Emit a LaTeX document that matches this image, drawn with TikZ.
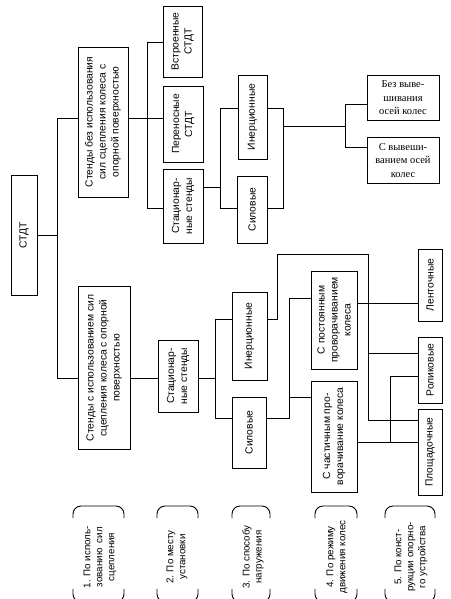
\documentclass[tikz,border=0pt]{standalone}
\usepackage{fontspec}
\setmainfont{Liberation Serif}
\setsansfont{Liberation Sans}

\begin{document}
\begin{tikzpicture}[x=1pt,y=-1pt,line width=0.9pt,
  main node/.style={draw,rotate=90,align=center,inner sep=1pt,
    font=\sffamily\fontsize{10.3}{13}\selectfont},
  side node/.style={draw,align=center,inner sep=1pt,minimum width=72,
    font=\rmfamily\fontsize{10.5}{13.5}\selectfont},
  crit node/.style={rotate=90,align=center,
    font=\sffamily\fontsize{9.8}{12}\selectfont},
  boxdim/.style 2 args={minimum width=#1,minimum height=#2}]
  \useasboundingbox (0,0) rectangle (450,599);
  % boxes
  \node[main node,boxdim={120}{26}]   (stdt)  at (24,235)    {СТДТ};
  \node[main node,boxdim={150}{50}]   (bez)   at (103,122)   {Стенды без использования\\сил сцепления колеса с\\опорной поверхностью};
  \node[main node,boxdim={163}{52}]   (sisp)  at (104,368)   {Стенды с использованием сил\\сцепления колеса с опорной\\поверхностью};
  \node[main node,boxdim={71}{39}]    (vstr)  at (182.5,41.5) {Встроенные\\СТДТ};
  \node[main node,boxdim={76}{40}]    (pern)  at (183,124)   {Переносные\\СТДТ};
  \node[main node,boxdim={74}{40}]    (stat1) at (183,206)   {Стационар-\\ные стенды};
  \node[main node,boxdim={84}{29}]    (iner1) at (252.5,117) {Инерционные};
  \node[main node,boxdim={67}{30}]    (sil1)  at (252,209.5) {Силовые};
  \node[side node,minimum height=45]  (bezv)  at (403,98)    {Без выве-\\шивания\\осей колес};
  \node[side node,minimum height=46]  (sv)    at (403,160.5) {С вывеши-\\ванием осей\\колес};
  \node[main node,boxdim={72}{40}]    (stat2) at (178,376)   {Стационар-\\ные стенды};
  \node[main node,boxdim={88}{35}]    (iner2) at (249.5,336) {Инерционные};
  \node[main node,boxdim={71}{34}]    (sil2)  at (249,432.5) {Силовые};
  \node[main node,boxdim={98}{46}]    (post)  at (334,320)   {С постоянным\\проворачиванием\\колеса};
  \node[main node,boxdim={111}{46}]   (chast) at (334,436.5) {С частичным про-\\ворачивание колеса};
  \node[main node,boxdim={72}{24}]    (lent)  at (430,285)   {Ленточные};
  \node[main node,boxdim={66}{24}]    (rol)   at (430,370)   {Роликовые};
  \node[main node,boxdim={86}{24}]    (plosh) at (430,452)   {Площадочные};
  % criteria
  \node[crit node] (k1) at (100,557) {1. По исполь-\\зованию\ \ сил\\сцепления};
  \node[crit node] (k2) at (177,557) {2. По месту\\установки};
  \node[crit node] (k3) at (253,557) {3. По способу\\нагружения};
  \node[crit node] (k4) at (337,557) {4. По режиму\\движения колес};
  \node[crit node] (k5) at (411,557) {5. По конст-\\рукции опорно-\\го устройства};
  \foreach \xa/\xb in {73/124,157/198,232/270,315/357,385/435} {
    \draw[rounded corners=8] (\xa,518) -- (\xa,506) -- (\xb,506) -- (\xb,518);
    \draw[rounded corners=8] (\xa,589) -- (\xa,602) -- (\xb,602) -- (\xb,589);
  }
  % junctions
  \coordinate (r0) at (57,118);  \coordinate (r1) at (57,378);
  \coordinate (u0) at (147,42);  \coordinate (u1) at (147,208);
  \coordinate (v0) at (220,108); \coordinate (v1) at (220,208); \coordinate (v2) at (220,187);
  \coordinate (w0) at (283,108); \coordinate (w1) at (283,208);
  \coordinate (w2) at (283,126); \coordinate (w3) at (345,126);
  \coordinate (x0) at (345,104); \coordinate (x1) at (345,147);
  \coordinate (p0) at (215,319); \coordinate (p1) at (215,418);
  \coordinate (q0) at (277,254); \coordinate (q1) at (368,254);
  \coordinate (q2) at (368,420); \coordinate (q3) at (368,353);
  \coordinate (s0) at (289,298); \coordinate (s1) at (289,397);
  \coordinate (n0) at (400,303);
  \coordinate (m0) at (390,376); \coordinate (m1) at (390,442);
  % connectors
  \draw (stdt.south) -- (stdt.south -| r0);
  \draw (bez.north |- r0) -- (r0) -- (r1) -- (sisp.north |- r1);
  \draw (bez.south |- r0) -- (pern.north |- r0);
  \draw (vstr.north |- u0) -- (u0) -- (u1) -- (stat1.north |- u1);
  \draw (stat1.south |- v2) -- (v2);
  \draw (iner1.north |- v0) -- (v0) -- (v1) -- (sil1.north |- v1);
  \draw (iner1.south |- w0) -- (w0) -- (w1) -- (sil1.south |- w1);
  \draw (w2) -- (w3);
  \draw (bezv.west |- x0) -- (x0) -- (x1) -- (sv.west |- x1);
  \draw (sisp.south |- r1) -- (stat2.north |- r1);
  \draw (stat2.south |- r1) -- (r1 -| p0);
  \draw (iner2.north |- p0) -- (p0) -- (p1) -- (sil2.north |- p1);
  \draw (iner2.south |- p0) -| (q0) -- (q1) -- (q2) -- (plosh.north |- q2);
  \draw (q3) -- (rol.north |- q3);
  \draw (sil2.south |- p1) -| (s0) -- (post.north |- s0);
  \draw (s1) -- (chast.north |- s1);
  \draw (post.south |- n0) -- (lent.north |- n0);
  \draw (chast.south |- m1) -- (m1) -- (m0) -- (rol.north |- m0);
  \draw (m1) -- (plosh.north |- m1);
\end{tikzpicture}
\end{document}
